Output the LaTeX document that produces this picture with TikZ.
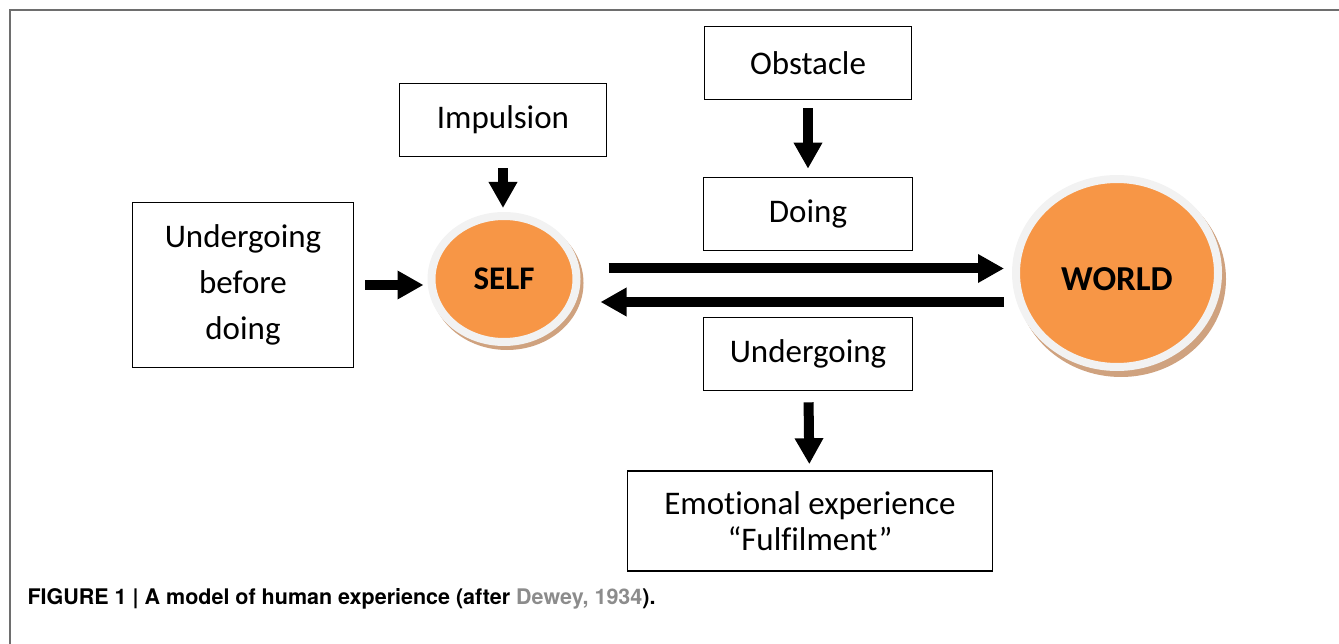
\documentclass[tikz,border=0pt]{standalone}
\usepackage{fontspec}
\usepackage{tikz}
\usepackage{xcolor}
\usetikzlibrary{arrows.meta,shapes.geometric}
\setmainfont{Carlito}[Ligatures=NoCommon]
\newfontfamily\capfont{TeX Gyre Heros}
\definecolor{selforange}{HTML}{F79646}
\definecolor{rimgray}{HTML}{F2F2F2}
\definecolor{shadowtan}{HTML}{CFA27F}
\definecolor{framegray}{HTML}{6E6E6E}
\definecolor{citegray}{HTML}{8C8C8C}
\begin{document}
\begin{tikzpicture}[x=1pt,y=-1pt,
    box/.style={draw,line width=1.6pt,align=center,inner sep=0pt,
        font=\fontsize{33}{46}\selectfont},
    blob/.style={ellipse,fill=selforange,draw=rimgray,line width=8pt,inner sep=0pt,
        font=\fontsize{33}{38}\selectfont\bfseries,
        preaction={draw=shadowtan,fill=shadowtan,line width=8pt,
            transform canvas={shift={(3pt,-4pt)}}}},
    fat/.style={line width=10pt,-{Triangle[length=26pt,width=27pt]}}]
    \useasboundingbox (0,0) rectangle (1339,644);
    % frame and caption
    \draw[framegray,line width=2pt] (10,644)--(10,10)--(1339,10);
    \node[anchor=west,font=\capfont\bfseries\fontsize{21.5}{24}\selectfont] (caption) at (24,599)
        {FIGURE 1 | A model of human experience (after \textcolor{citegray}{Dewey, 1934}).};
    % boxes
    \node[box,minimum width=207pt,minimum height=73pt] (obstacle) at (808,63) {Obstacle};
    \node[box,minimum width=207pt,minimum height=73pt] (impulsion) at (503,120) {Impulsion};
    \node[box,minimum width=209pt,minimum height=73pt] (doing) at (808,214) {Doing};
    \node[box,minimum width=221pt,minimum height=165pt] (ubd) at (243,285) {Undergoing\\before\\doing};
    \node[box,minimum width=209pt,minimum height=73pt] (undergoing) at (808,354) {Undergoing};
    \node[box,minimum width=365pt,minimum height=100pt,
        font=\fontsize{33}{36}\selectfont] (emotion) at (810,521) {Emotional experience\\“Fulfilment”};
    % self and world
    \node[blob,minimum width=145pt,minimum height=126pt] (self) at (504,279) {SELF};
    \node[blob,minimum width=202pt,minimum height=188pt,text height=35pt,text depth=0pt,
        font=\fontsize{35}{38}\selectfont\bfseries,
        preaction={draw=shadowtan,fill=shadowtan,line width=8pt,
            transform canvas={shift={(4pt,-6pt)}}}] (world) at (1117,273) {WORLD};
    % arrows
    \draw[fat,shorten <=11pt,shorten >=4pt] (impulsion.south) -- (impulsion.south |- self.north);
    \draw[fat,shorten <=11pt,shorten >=4pt] (ubd.east) -- (ubd.east -| self.west);
    \draw[fat,shorten <=8pt,shorten >=8pt] (obstacle) -- (doing);
    \draw[fat,shorten <=11pt,shorten >=6pt] (undergoing) -- (emotion);
    \draw[fat] ([xshift=28pt,yshift=10.5pt]self.east) -- ([xshift=-8pt,yshift=10.5pt]self.east -| world.west);
    \draw[fat] ([xshift=-8pt,yshift=-23pt]self.east -| world.west) -- ([xshift=20pt,yshift=-23pt]self.east);
\end{tikzpicture}
\end{document}
